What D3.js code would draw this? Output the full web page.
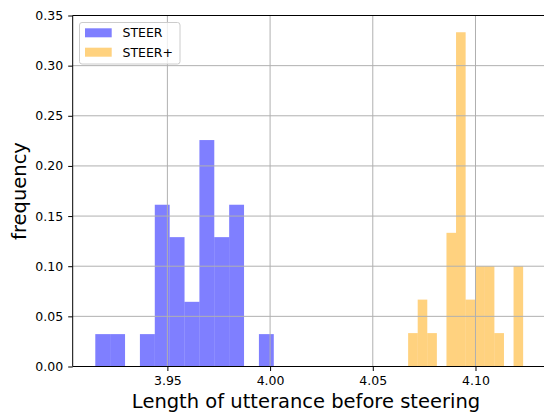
<!DOCTYPE html>
<html><head><meta charset="utf-8">
<script src="https://cdn.jsdelivr.net/npm/d3@7"></script>
<style>
body{margin:0;background:#fff;}
svg text{font-family:"DejaVu Sans",sans-serif;fill:#000;}
</style></head>
<body><svg id="c" width="544" height="413"></svg>
<script>
// Data
const seriesNames = ["STEER", "STEER+"];
const steerRange = [3.9149, 4.0018];        // histogram range (12 bins)
const steerFreq = [0.0323, 0.0323, 0, 0.0323, 0.1613, 0.1290, 0.0645, 0.2258, 0.1290, 0.1613, 0, 0.0323];
const steerPlusRange = [4.0672, 4.1232];    // histogram range (12 bins)
const steerPlusFreq = [0.0333, 0.0667, 0.0333, 0, 0.1333, 0.3333, 0.0667, 0.1, 0.1, 0.0333, 0, 0.1];
const xTicks = [3.95, 4.00, 4.05, 4.10];
const yTicks = [0, 0.05, 0.10, 0.15, 0.20, 0.25, 0.30, 0.35];
const xLabel = "Length of utterance before steering";
const yLabel = "frequency";
const colors = ["#0000ff", "#ffa500"];

const svg = d3.select("#c");
const L = 72.7, T = 15.5, B = 366.5;
const x = d3.scaleLinear().domain([3.9039, 4.1340]).range([L, L + (4.1340 - 3.9039) / 0.05 * 102.7]);
const y = d3.scaleLinear().domain([0, 0.35]).range([B, T]);

function bins(range, freq) {
  const w = (range[1] - range[0]) / freq.length;
  return freq.map((f, i) => ({x0: range[0] + i * w, x1: range[0] + (i + 1) * w, f}));
}
const series = [bins(steerRange, steerFreq), bins(steerPlusRange, steerPlusFreq)];

// bars
series.forEach((s, k) => {
  svg.append("g").selectAll("rect").data(s.filter(d => d.f > 0)).join("rect")
    .attr("x", d => x(d.x0)).attr("width", d => x(d.x1) - x(d.x0))
    .attr("y", d => y(d.f)).attr("height", d => y(0) - y(d.f))
    .attr("fill", colors[k]).attr("fill-opacity", 0.5);
});

// grid (on top)
const grid = svg.append("g").attr("stroke", "#b0b0b0").attr("stroke-width", 1);
xTicks.forEach(t => grid.append("line").attr("x1", x(t)).attr("x2", x(t)).attr("y1", T).attr("y2", B));
yTicks.forEach(t => grid.append("line").attr("x1", L).attr("x2", 544).attr("y1", y(t)).attr("y2", y(t)));

// axes
const xAxis = d3.axisBottom(x).tickValues(xTicks).tickFormat(d3.format(".2f")).tickSize(4.5).tickPadding(5);
const gx = svg.append("g").attr("transform", `translate(0,${B})`).call(xAxis);
const yAxis = d3.axisLeft(y).tickValues(yTicks).tickFormat(d3.format(".2f")).tickSize(4.5).tickPadding(5);
const gy = svg.append("g").attr("transform", `translate(${L},0)`).call(yAxis);
[gx, gy].forEach(g => {
  g.select(".domain").remove();
  g.selectAll(".tick line").attr("stroke", "#000").attr("stroke-width", 1);
  g.selectAll(".tick text").attr("font-size", 12.5).attr("font-family", "DejaVu Sans");
});
gx.selectAll(".tick text").attr("dy", "0.75em");
// spines
svg.append("line").attr("x1", L).attr("x2", L).attr("y1", T).attr("y2", B).attr("stroke", "#000").attr("stroke-width", 1);
svg.append("line").attr("x1", L).attr("x2", 544).attr("y1", B).attr("y2", B).attr("stroke", "#000").attr("stroke-width", 1);
svg.append("line").attr("x1", L).attr("x2", 544).attr("y1", T).attr("y2", T).attr("stroke", "#000").attr("stroke-width", 1);

// labels
svg.append("text").attr("x", 306).attr("y", 408).attr("text-anchor", "middle").attr("font-size", 19.5).text(xLabel);
svg.append("text").attr("transform", "translate(26,191) rotate(-90)").attr("text-anchor", "middle").attr("font-size", 19.5).text(yLabel);

// legend
const lg = svg.append("g");
lg.append("rect").attr("x", 79.5).attr("y", 22.5).attr("width", 100.5).attr("height", 41.5).attr("rx", 2.5)
  .attr("fill", "#fff").attr("fill-opacity", 0.8).attr("stroke", "#cccccc").attr("stroke-width", 1);
seriesNames.forEach((n, i) => {
  const yy = 28.3 + i * 19.4;
  lg.append("rect").attr("x", 85).attr("y", yy).attr("width", 26.7).attr("height", 9)
    .attr("fill", colors[i]).attr("fill-opacity", 0.5);
  lg.append("text").attr("x", 122.5).attr("y", yy + 4.5).attr("dy", "0.36em").attr("font-size", 12.5).text(n);
});
</script></body></html>
